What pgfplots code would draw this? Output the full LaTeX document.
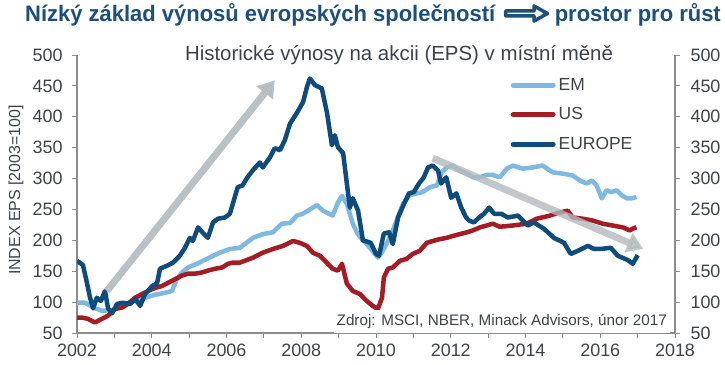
\documentclass[border=0pt]{standalone}
\usepackage{fontspec}
\setmainfont{Liberation Sans}
\newfontfamily\titlefont[FakeStretch=0.98]{Liberation Sans}
\usepackage{pgfplots}
\pgfplotsset{compat=1.18}
\usetikzlibrary{arrows.meta}
\definecolor{em}{HTML}{7DB9E1}
\definecolor{us}{HTML}{A51C24}
\definecolor{eu}{HTML}{0F4B7D}
\definecolor{titleblue}{HTML}{1B4F7C}
\definecolor{axgray}{HTML}{8C8C8C}
\definecolor{txt}{HTML}{3C434B}
\definecolor{arrgray}{HTML}{B4B9BE}
\begin{document}
\begin{tikzpicture}[x=1bp,y=1bp]
\useasboundingbox (-77,-31) rectangle (648,333);
\pgfplotsset{common/.style={
  at={(0,0)}, anchor=south west, scale only axis, width=598bp, height=278bp,
  xmin=2002, xmax=2018, ymin=50, ymax=500,
  ytick={50,100,...,500},
  axis line style={axgray, line width=1.2bp},
  tick align=outside, major tick length=5bp, minor tick length=5bp,
  tick style={axgray, line width=1bp},
  ticklabel style={font=\fontsize{18}{18}\selectfont, text=txt},
  /pgf/number format/1000 sep={},
  /pgf/number format/assume math mode=true,
}}
\begin{axis}[common,
  axis x line*=bottom, axis y line*=left,
  xtick={2002,2004,...,2018}, minor xtick={2003,2005,...,2017},
  yticklabel style={xshift=-6bp},
  xticklabel style={yshift=-2bp},
  ylabel={INDEX EPS [2003=100]},
  ylabel style={at={(axis description cs:-0.102,0.514)}, anchor=center, font=\fontsize{16}{16}\selectfont, text=txt},
  legend style={at={(rel axis cs:0.7249,0.917)}, anchor=north west, draw=none, fill=none,
    font=\fontsize{17.5}{17.5}\selectfont, text=txt, row sep=16bp, column sep=3bp, inner sep=0pt, nodes={inner sep=0pt}},
  legend cell align=left,
  legend image code/.code={\draw[#1, line width=5bp, line cap=round] (0bp,0bp) -- (40bp,0bp);},
  every axis plot/.append style={line width=4.5bp, line join=round},
]
\addplot[em] coordinates {
(2002.00,99) (2002.21,99) (2002.48,90) (2002.67,86) (2002.94,87) (2003.23,95) (2003.55,102)
(2003.82,107) (2004.09,112) (2004.35,115) (2004.54,118) (2004.67,137) (2004.81,148) (2004.97,156)
(2005.21,162) (2005.37,167) (2005.61,174) (2005.82,180) (2006.09,186) (2006.36,188) (2006.49,194)
(2006.71,204) (2006.97,210) (2007.24,213) (2007.48,227) (2007.70,228) (2007.88,240) (2008.04,243)
(2008.42,257) (2008.58,248) (2008.84,240) (2008.98,261) (2009.09,272) (2009.22,259) (2009.38,227)
(2009.51,210) (2009.75,194) (2009.91,183) (2010.05,172) (2010.18,183) (2010.32,199) (2010.45,216)
(2010.58,237) (2010.72,259) (2010.90,273) (2011.09,276) (2011.25,278) (2011.44,286) (2011.63,289)
(2011.76,310) (2011.89,318) (2012.05,321) (2012.24,313) (2012.43,308) (2012.59,302) (2012.78,302)
(2012.96,306) (2013.12,306) (2013.31,302) (2013.50,316) (2013.66,321) (2013.93,316) (2014.19,318)
(2014.46,321) (2014.73,310) (2014.99,308) (2015.26,305) (2015.45,297) (2015.64,292) (2015.77,297)
(2015.90,289) (2016.04,268) (2016.17,281) (2016.30,278) (2016.44,281) (2016.57,273) (2016.71,268)
(2016.84,268) (2016.97,270)
};
\addplot[us] coordinates {
(2002.00,75) (2002.13,75) (2002.29,73) (2002.48,67) (2002.67,73) (2002.83,78) (2003.02,89)
(2003.20,91) (2003.36,97) (2003.55,107) (2003.74,113) (2003.90,118) (2004.09,123) (2004.27,126)
(2004.43,131) (2004.62,137) (2004.81,143) (2004.97,146) (2005.16,146) (2005.34,148) (2005.50,151)
(2005.69,154) (2005.88,156) (2006.04,162) (2006.17,164) (2006.36,164) (2006.71,172) (2006.97,180)
(2007.24,186) (2007.51,191) (2007.78,199) (2007.96,196) (2008.15,191) (2008.31,180) (2008.50,175)
(2008.68,164) (2008.84,154) (2008.98,151) (2009.09,162) (2009.22,130) (2009.38,118) (2009.57,113)
(2009.75,102) (2009.91,94) (2010.05,89) (2010.16,107) (2010.21,140) (2010.32,154) (2010.45,156)
(2010.64,167) (2010.82,170) (2010.98,178) (2011.17,183) (2011.36,196) (2011.52,199) (2011.71,202)
(2011.89,204) (2012.05,207) (2012.24,210) (2012.43,213) (2012.59,216) (2012.78,221) (2012.96,224)
(2013.12,227) (2013.31,222) (2013.66,224) (2014.03,227) (2014.30,235) (2014.65,240) (2014.91,245)
(2015.13,248) (2015.26,237) (2015.53,235) (2015.80,232) (2016.06,227) (2016.33,224) (2016.60,221)
(2016.79,216) (2016.87,219) (2016.97,221)
};
\addplot[eu] coordinates {
(2002.00,167) (2002.16,160) (2002.27,130) (2002.35,107) (2002.43,90) (2002.53,107) (2002.64,102)
(2002.75,118) (2002.83,90) (2002.94,82) (2003.07,97) (2003.23,99) (2003.42,97) (2003.56,105)
(2003.69,94) (2003.82,113) (2004.01,126) (2004.14,130) (2004.22,154) (2004.41,159) (2004.57,164)
(2004.75,175) (2004.89,188) (2005.02,204) (2005.10,199) (2005.24,221) (2005.37,212) (2005.50,204)
(2005.64,229) (2005.77,235) (2005.96,237) (2006.09,243) (2006.30,286) (2006.43,289) (2006.56,302)
(2006.70,313) (2006.89,326) (2006.97,318) (2007.16,334) (2007.29,349) (2007.43,346) (2007.56,362)
(2007.70,389) (2007.88,406) (2008.05,424) (2008.15,448) (2008.23,462) (2008.37,451) (2008.55,446)
(2008.69,406) (2008.82,354) (2008.90,370) (2008.98,351) (2009.12,341) (2009.22,292) (2009.30,253)
(2009.38,268) (2009.52,248) (2009.65,200) (2009.86,196) (2010.00,178) (2010.08,175) (2010.21,211)
(2010.35,213) (2010.45,194) (2010.59,237) (2010.75,259) (2010.88,276) (2011.01,278) (2011.15,292)
(2011.28,302) (2011.39,318) (2011.52,321) (2011.66,313) (2011.74,292) (2011.88,302) (2012.01,269)
(2012.15,276) (2012.28,253) (2012.41,237) (2012.49,232) (2012.62,229) (2012.76,237) (2012.89,243)
(2013.03,253) (2013.16,243) (2013.35,243) (2013.53,237) (2013.80,240) (2014.06,224) (2014.22,229)
(2014.49,219) (2014.76,204) (2015.03,196) (2015.21,178) (2015.40,183) (2015.67,191) (2015.83,186)
(2016.02,186) (2016.28,188) (2016.47,175) (2016.74,168) (2016.87,162) (2017.00,176)
};
\legend{EM,US,EUROPE}
\draw[arrgray, opacity=0.9, line width=7bp, -{Triangle[width=20bp,length=16bp]}] (axis cs:2002.8,118) -- (axis cs:2007.29,459);
\draw[arrgray, opacity=0.8, line width=7bp, -{Triangle[width=20bp,length=16bp]}] (axis cs:2011.52,333) -- (axis cs:2017.15,186);
\end{axis}
\begin{axis}[common,
  axis x line=none, axis y line*=right,
  yticklabel style={xshift=7bp},
]
\end{axis}
% subtitle
\node[anchor=base, inner sep=0pt, font=\fontsize{20.5}{20.5}\selectfont, text=txt] at (322,272.5) {Historické výnosy na akcii (EPS) v místní měně};
% source
\node[anchor=base east, fill=white, inner xsep=3bp, inner ysep=4bp, font=\fontsize{15.3}{15.3}\selectfont, text=txt] at (593,7.4) {Zdroj: MSCI, NBER, Minack Advisors, únor 2017};
% title
\node[anchor=base west, inner sep=0pt, font=\titlefont\bfseries\fontsize{22.5}{22.5}\selectfont, text=titleblue] at (-52,312) {Nízký základ výnosů evropských společností};
\node[anchor=base east, inner sep=0pt, font=\titlefont\bfseries\fontsize{22.5}{22.5}\selectfont, text=titleblue] at (644,312) {prostor pro růst};
\draw[titleblue, line width=3.5bp, fill=white, line join=round]
  (428.5,322) -- (457,322) -- (457,327) -- (470.5,319.5) -- (457,312) -- (457,317) -- (428.5,317) -- cycle;
\end{tikzpicture}
\end{document}
